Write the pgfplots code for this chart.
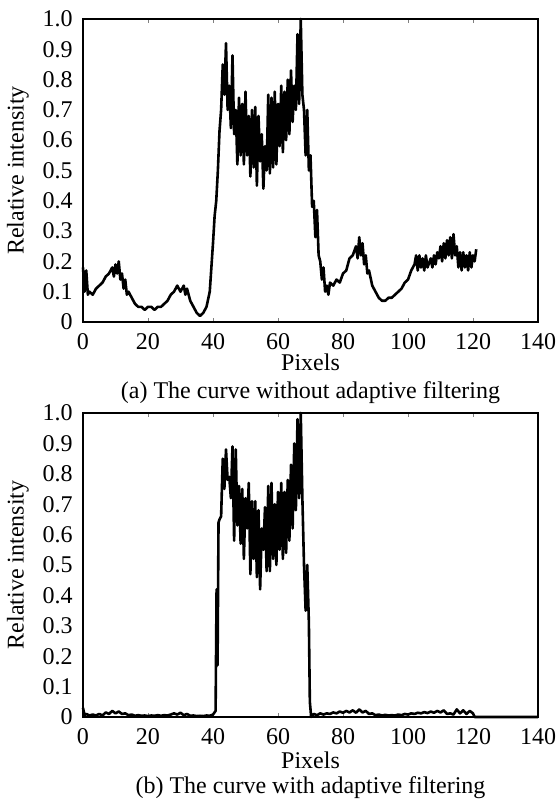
\documentclass[border=0pt]{standalone}
\usepackage{pgfplots}
\pgfplotsset{compat=1.18}
\usepackage{fontspec}
\setmainfont{Liberation Serif}
\begin{document}
\fontsize{12}{14}\selectfont
\begin{tikzpicture}
\pgfplotsset{
  myax/.style={
    scale only axis, width=227.5pt, height=152pt,
    xmin=0, xmax=140, ymin=0, ymax=1,
    xtick={0,20,...,140},
    ytick={0,0.1,...,1.0},
    yticklabels={0,0.1,0.2,0.3,0.4,0.5,0.6,0.7,0.8,0.9,1.0},
    /pgf/number format/assume math mode=true,
    tick label style={font=\fontsize{12}{14}\selectfont},
    label style={font=\fontsize{12}{14}\selectfont},
    xtick align=inside, major tick length=2pt,
    ytick style={draw=none},
    yticklabel style={xshift=-1pt},
    xticklabel style={yshift=-1.5pt},
    axis line style={line width=0.75pt},
    xlabel={Pixels}, ylabel={Relative intensity},
    ylabel style={at={(axis description cs:-0.143,0.5)}, anchor=center},
    clip=false,
  },
  cur/.style={black, line width=1.3pt, no marks, line join=round},
}
\useasboundingbox (-41.5pt,-42pt) rectangle (236.5pt,358.5pt);
\begin{axis}[myax, at={(0,197.5pt)}, anchor=south west, height=151.5pt,
  xlabel style={at={(axis description cs:0.5,-0.132)}, anchor=center}]
\addplot[cur] coordinates {
(0,0.18)(0.5,0.10)(1,0.17)(1.5,0.09)(2,0.10)(3,0.09)(4,0.11)(5,0.12)(6,0.13)(7,0.15)(8,0.16)(9,0.18)(9.5,0.15)(10,0.19)(10.5,0.16)(11,0.20)(11.5,0.14)(12,0.16)(12.5,0.11)(13,0.14)(13.5,0.09)(14,0.10)(15,0.08)(16,0.06)(17,0.05)(18,0.05)(19,0.04)(20,0.05)(21,0.05)(22,0.04)(23,0.05)(24,0.05)(25,0.06)(26,0.07)(27,0.09)(28,0.10)(29,0.12)(30,0.10)(31,0.12)(31.5,0.09)(32,0.11)(33,0.07)(34,0.05)(35,0.03)(36,0.02)(37,0.03)(38,0.05)(39,0.10)(39.5,0.18)(40,0.26)(40.5,0.35)(41,0.40)(41.5,0.50)(42,0.63)(42.5,0.70)(43,0.85)(43.5,0.75)(44,0.92)(44.5,0.70)(45,0.78)(45.5,0.64)(46,0.88)(46.5,0.62)(47,0.70)(47.5,0.52)(48,0.74)(48.5,0.55)(49,0.72)(49.5,0.52)(50,0.76)(50.5,0.55)(51,0.68)(51.5,0.48)(52,0.70)(52.5,0.51)(53,0.71)(53.5,0.45)(54,0.68)(54.5,0.53)(55,0.62)(55.5,0.44)(56,0.58)(56.5,0.50)(57,0.75)(57.5,0.49)(58,0.74)(58.5,0.51)(59,0.76)(59.5,0.52)(60,0.72)(60.5,0.58)(61,0.78)(61.5,0.56)(62,0.76)(62.5,0.60)(63,0.80)(63.5,0.62)(64,0.83)(64.5,0.66)(65,0.78)(65.5,0.70)(66,0.95)(66.5,0.72)(67,1.0)(67.5,0.75)(68,0.70)(68.5,0.55)(69,0.70)(69.5,0.50)(70,0.55)(70.5,0.38)(71,0.40)(71.5,0.28)(72,0.37)(72.5,0.22)(73,0.20)(73.5,0.14)(74,0.18)(74.5,0.10)(75,0.12)(75.5,0.09)(76,0.13)(77,0.12)(78,0.14)(79,0.13)(80,0.16)(81,0.17)(82,0.21)(83,0.22)(84,0.25)(84.5,0.21)(85,0.28)(85.5,0.22)(86,0.26)(86.5,0.19)(87,0.22)(87.5,0.16)(88,0.17)(89,0.12)(90,0.10)(91,0.08)(92,0.07)(93,0.07)(94,0.08)(95,0.08)(96,0.09)(97,0.10)(98,0.11)(99,0.13)(100,0.14)(101,0.17)(102,0.19)(102.5,0.22)(103,0.17)(103.5,0.22)(104,0.18)(104.5,0.21)(105,0.17)(105.5,0.22)(106,0.18)(107,0.21)(107.5,0.18)(108,0.22)(108.5,0.19)(109,0.23)(109.5,0.21)(110,0.25)(110.5,0.20)(111,0.26)(111.5,0.21)(112,0.27)(112.5,0.22)(113,0.28)(113.5,0.21)(114,0.29)(114.5,0.22)(115,0.25)(115.5,0.18)(116,0.23)(116.5,0.17)(117,0.23)(117.5,0.18)(118,0.22)(118.5,0.17)(119,0.23)(119.5,0.18)(120,0.22)(120.5,0.20)(121,0.24)
};
\node[anchor=center] at (rel axis cs:0.5,0) [yshift=-35.5pt] {(a) The curve without adaptive filtering};
\end{axis}
\begin{axis}[myax, at={(0,0)}, anchor=south west,
  xlabel style={at={(axis description cs:0.5,-0.1415)}, anchor=center}]
\addplot[cur] coordinates {
(0,0.03)(0.5,0.005)(1,0.01)(2,0.005)(3,0.008)(4,0.005)(5,0.01)(6,0.005)(7,0.015)(8,0.01)(9,0.02)(10,0.012)(11,0.018)(12,0.01)(13,0.012)(14,0.006)(15,0.008)(16,0.004)(17,0.006)(18,0.004)(19,0.005)(20,0.003)(21,0.005)(22,0.004)(23,0.006)(24,0.004)(25,0.006)(26,0.005)(27,0.008)(28,0.012)(29,0.008)(30,0.014)(31,0.006)(32,0.01)(33,0.004)(34,0.005)(35,0.003)(36,0.004)(37,0.003)(38,0.005)(39,0.004)(40,0.008)(40.8,0.02)(41.1,0.42)(41.4,0.17)(41.7,0.64)(42,0.65)(42.5,0.66)(43,0.85)(43.5,0.75)(44,0.88)(44.5,0.78)(45,0.79)(45.5,0.72)(46,0.89)(46.5,0.58)(47,0.88)(47.5,0.63)(48,0.76)(48.5,0.57)(49,0.75)(49.5,0.52)(50,0.72)(50.5,0.62)(51,0.77)(51.5,0.47)(52,0.71)(52.5,0.52)(53,0.71)(53.5,0.46)(54,0.68)(54.5,0.42)(55,0.62)(55.5,0.55)(56,0.69)(56.5,0.48)(57,0.76)(57.5,0.48)(58,0.77)(58.5,0.52)(59,0.70)(59.5,0.50)(60,0.74)(60.5,0.55)(61,0.77)(61.5,0.52)(62,0.74)(62.5,0.54)(63,0.78)(63.5,0.58)(64,0.83)(64.5,0.62)(65,0.90)(65.5,0.68)(66,0.98)(66.5,0.72)(67,1.0)(67.5,0.72)(68,0.50)(68.5,0.35)(69,0.50)(69.5,0.31)(69.8,0.05)(70.2,0.0)(71,0.01)(72,0.006)(73,0.012)(74,0.008)(75,0.012)(76,0.01)(77,0.015)(78,0.012)(79,0.018)(80,0.014)(81,0.02)(82,0.015)(83,0.022)(84,0.014)(85,0.025)(86,0.015)(87,0.02)(88,0.01)(89,0.012)(90,0.006)(91,0.008)(92,0.005)(93,0.007)(94,0.005)(95,0.006)(96,0.005)(97,0.008)(98,0.006)(99,0.01)(100,0.008)(101,0.012)(102,0.01)(103,0.014)(104,0.012)(105,0.016)(106,0.013)(107,0.018)(108,0.014)(109,0.02)(110,0.015)(111,0.022)(112,0.01)(113,0.012)(114,0.008)(115,0.025)(116,0.012)(117,0.022)(118,0.01)(119,0.02)(120,0.012)(120.5,0.0)(140,0.0)
};
\node[anchor=center] at (rel axis cs:0.5,0) [yshift=-35.5pt] {(b) The curve with adaptive filtering};
\end{axis}
\end{tikzpicture}
\end{document}
